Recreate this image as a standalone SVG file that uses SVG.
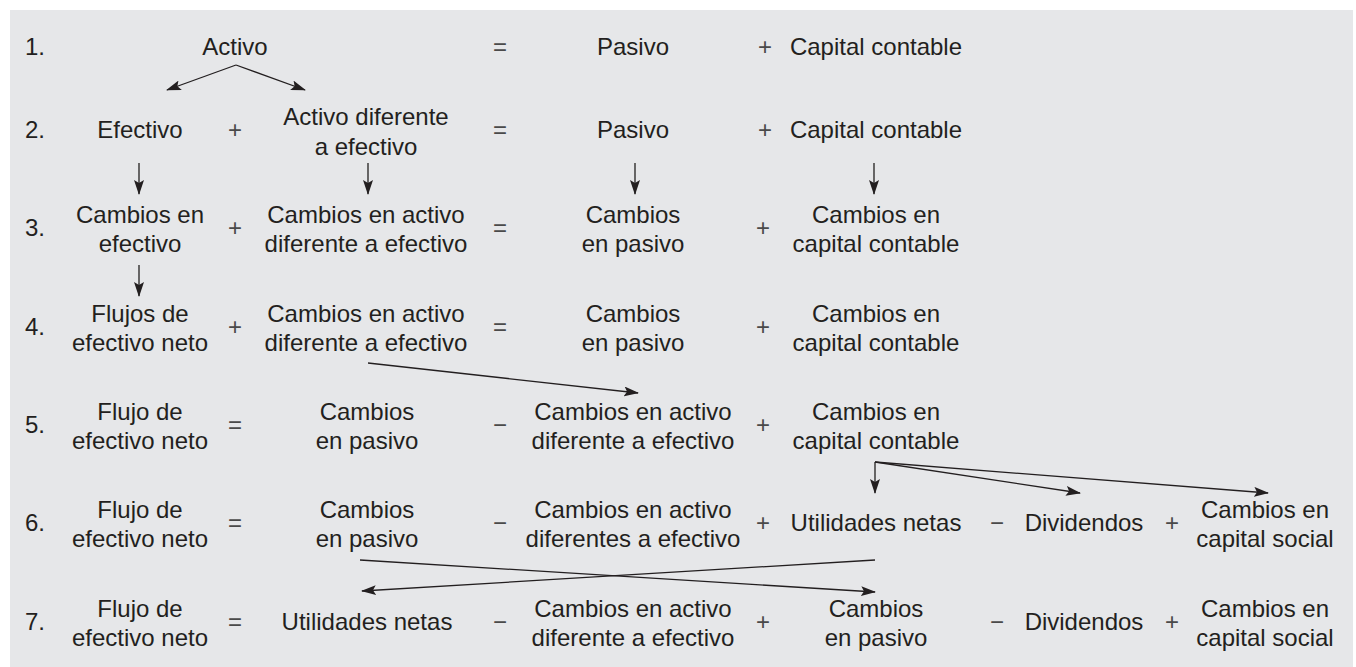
<svg xmlns="http://www.w3.org/2000/svg" width="1356" height="667" viewBox="0 0 1356 667">
<style>
text{font-family:"Liberation Sans",Arial,sans-serif;font-size:24px;fill:#231f20}
.c{text-anchor:middle}
.op{text-anchor:middle;fill:#4a4a4a}
.ln{stroke:#231f20;stroke-width:1.3;fill:none;marker-end:url(#ah)}
.pl{stroke:#231f20;stroke-width:1.3;fill:none}
</style>
<defs>
<marker id="ah" markerWidth="15" markerHeight="10" refX="14" refY="5" orient="auto" markerUnits="userSpaceOnUse"><path d="M0,0 L15,5 L0,10 L3,5 z" fill="#231f20"/></marker>
</defs>
<rect x="0" y="0" width="1356" height="667" fill="#ffffff"/>
<rect x="10" y="10" width="1343" height="657" fill="#e6e7e9"/>

<!-- Row 1 -->
<g id="r1"><text x="25" y="55">1.</text>
<g id="r1-activo"><text class="c" x="235" y="55">Activo</text></g>
<text class="op" x="500" y="55">=</text>
<g id="r1-pasivo"><text class="c" x="633" y="55">Pasivo</text></g>
<text class="op" x="765" y="55">+</text>
<g id="r1-capital"><text class="c" x="876" y="55">Capital contable</text></g>
</g>

<!-- Row 2 -->
<g id="r2"><text x="25" y="138">2.</text>
<g id="r2-efectivo"><text class="c" x="140" y="138">Efectivo</text></g>
<text class="op" x="235" y="138">+</text>
<g id="r2-activodif"><text class="c" x="366" y="125">Activo diferente</text><text class="c" x="366" y="155">a efectivo</text></g>
<text class="op" x="500" y="138">=</text>
<g id="r2-pasivo"><text class="c" x="633" y="138">Pasivo</text></g>
<text class="op" x="765" y="138">+</text>
<g id="r2-capital"><text class="c" x="876" y="138">Capital contable</text></g>
</g>

<!-- Row 3 -->
<g id="r3"><text x="25" y="236">3.</text>
<g id="r3-efectivo"><text class="c" x="140" y="223">Cambios en</text><text class="c" x="140" y="252">efectivo</text></g>
<text class="op" x="235" y="236">+</text>
<g id="r3-activodif"><text class="c" x="366" y="223">Cambios en activo</text><text class="c" x="366" y="252">diferente a efectivo</text></g>
<text class="op" x="500" y="236">=</text>
<g id="r3-pasivo"><text class="c" x="633" y="223">Cambios</text><text class="c" x="633" y="252">en pasivo</text></g>
<text class="op" x="763" y="236">+</text>
<g id="r3-capital"><text class="c" x="876" y="223">Cambios en</text><text class="c" x="876" y="252">capital contable</text></g>
</g>

<!-- Row 4 -->
<g id="r4"><text x="25" y="335">4.</text>
<g id="r4-flujos"><text class="c" x="140" y="322">Flujos de</text><text class="c" x="140" y="351">efectivo neto</text></g>
<text class="op" x="235" y="335">+</text>
<g id="r4-activodif"><text class="c" x="366" y="322">Cambios en activo</text><text class="c" x="366" y="351">diferente a efectivo</text></g>
<text class="op" x="500" y="335">=</text>
<g id="r4-pasivo"><text class="c" x="633" y="322">Cambios</text><text class="c" x="633" y="351">en pasivo</text></g>
<text class="op" x="763" y="335">+</text>
<g id="r4-capital"><text class="c" x="876" y="322">Cambios en</text><text class="c" x="876" y="351">capital contable</text></g>
</g>

<!-- Row 5 -->
<g id="r5"><text x="25" y="433">5.</text>
<g id="r5-flujo"><text class="c" x="140" y="420">Flujo de</text><text class="c" x="140" y="449">efectivo neto</text></g>
<text class="op" x="235" y="433">=</text>
<g id="r5-pasivo"><text class="c" x="367" y="420">Cambios</text><text class="c" x="367" y="449">en pasivo</text></g>
<text class="op" x="500" y="433">−</text>
<g id="r5-activodif"><text class="c" x="633" y="420">Cambios en activo</text><text class="c" x="633" y="449">diferente a efectivo</text></g>
<text class="op" x="763" y="433">+</text>
<g id="r5-capital"><text class="c" x="876" y="420">Cambios en</text><text class="c" x="876" y="449">capital contable</text></g>
</g>

<!-- Row 6 -->
<g id="r6"><text x="25" y="531">6.</text>
<g id="r6-flujo"><text class="c" x="140" y="518">Flujo de</text><text class="c" x="140" y="547">efectivo neto</text></g>
<text class="op" x="235" y="531">=</text>
<g id="r6-pasivo"><text class="c" x="367" y="518">Cambios</text><text class="c" x="367" y="547">en pasivo</text></g>
<text class="op" x="500" y="531">−</text>
<g id="r6-activodif"><text class="c" x="633" y="518">Cambios en activo</text><text class="c" x="633" y="547">diferentes a efectivo</text></g>
<text class="op" x="763" y="531">+</text>
<g id="r6-utilidades"><text class="c" x="876" y="531">Utilidades netas</text></g>
<text class="op" x="997" y="531">−</text>
<g id="r6-dividendos"><text class="c" x="1084" y="531">Dividendos</text></g>
<text class="op" x="1172" y="531">+</text>
<g id="r6-capsocial"><text class="c" x="1265" y="518">Cambios en</text><text class="c" x="1265" y="547">capital social</text></g>
</g>

<!-- Row 7 -->
<g id="r7"><text x="25" y="630">7.</text>
<g id="r7-flujo"><text class="c" x="140" y="617">Flujo de</text><text class="c" x="140" y="646">efectivo neto</text></g>
<text class="op" x="235" y="630">=</text>
<g id="r7-utilidades"><text class="c" x="367" y="630">Utilidades netas</text></g>
<text class="op" x="500" y="630">−</text>
<g id="r7-activodif"><text class="c" x="633" y="617">Cambios en activo</text><text class="c" x="633" y="646">diferente a efectivo</text></g>
<text class="op" x="763" y="630">+</text>
<g id="r7-pasivo"><text class="c" x="876" y="617">Cambios</text><text class="c" x="876" y="646">en pasivo</text></g>
<text class="op" x="997" y="630">−</text>
<g id="r7-dividendos"><text class="c" x="1084" y="630">Dividendos</text></g>
<text class="op" x="1172" y="630">+</text>
<g id="r7-capsocial"><text class="c" x="1265" y="617">Cambios en</text><text class="c" x="1265" y="646">capital social</text></g>
</g>

<!-- Connectors -->
<g id="connectors">
<line class="ln" x1="236" y1="65" x2="167" y2="90"/>
<line class="ln" x1="236" y1="65" x2="305" y2="90"/>
<line class="ln" x1="139" y1="163" x2="139" y2="194"/>
<line class="ln" x1="368" y1="163" x2="368" y2="194"/>
<line class="ln" x1="635" y1="163" x2="635" y2="194"/>
<line class="ln" x1="874" y1="163" x2="874" y2="194"/>
<line class="ln" x1="139" y1="265" x2="139" y2="296"/>
<line class="ln" x1="368" y1="363" x2="638" y2="393"/>
<line class="ln" x1="875" y1="462" x2="875" y2="493"/>
<line class="ln" x1="875" y1="462" x2="1080" y2="493"/>
<line class="ln" x1="875" y1="462" x2="1268" y2="493"/>
<line class="ln" x1="360" y1="560" x2="875" y2="592"/>
<line class="ln" x1="875" y1="560" x2="362" y2="591"/>
</g>
</svg>
